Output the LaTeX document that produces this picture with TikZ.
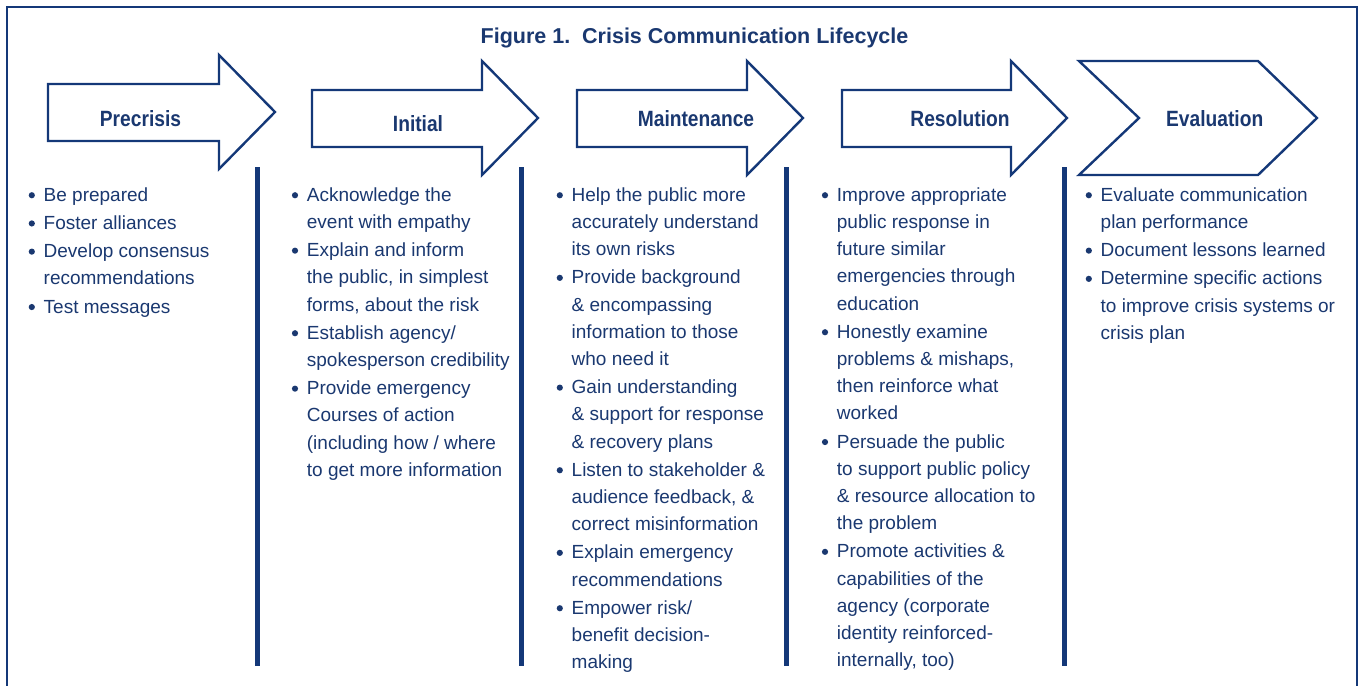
\documentclass[tikz,border=0pt]{standalone}
\usepackage{fontspec}
\setmainfont{Liberation Sans}
\usepackage{graphicx}
\definecolor{navy}{RGB}{20,56,120}
\definecolor{inkblue}{RGB}{26,56,112}
\newcommand\bul{\makebox[15pt][l]{\raisebox{2.9pt}{\tikz\fill (0,0) circle (3.1pt);}}}
\newcommand\ind{\hspace*{15pt}}
\newcommand\hd[1]{\scalebox{1}[1.15]{#1}}
\tikzset{
  frameline/.style={draw=navy, line width=2pt},
  arrowshape/.style={draw=navy, line width=2.4pt, fill=white, line join=miter},
  divider/.style={draw=navy, line width=5pt},
  headlabel/.style={text=inkblue, font=\fontsize{19.2}{22}\selectfont\bfseries, anchor=base, inner sep=0pt},
  titlelabel/.style={text=inkblue, font=\fontsize{21.5}{25}\selectfont\bfseries, anchor=base, inner sep=0pt},
  col/.style={text=inkblue, anchor=north west, align=left, inner sep=0pt, font=\fontsize{19}{27.2}\selectfont},
}
\begin{document}
\begin{tikzpicture}[x=1pt,y=-1pt]
\useasboundingbox (0,0) rectangle (1359,685);
% frame (open at the bottom)
\draw[frameline] (7,686) -- (7,7) -- (1357,7) -- (1357,686);
% title
\node[titlelabel] (title) at (694.5,44) {Figure 1.\ \ Crisis Communication Lifecycle};
% arrows
\draw[arrowshape] (48,84) -- (219,84) -- (219,55) -- (275,112) -- (219,169) -- (219,141) -- (48,141) -- cycle;
\draw[arrowshape] (312,90) -- (482,90) -- (482,61) -- (538,118) -- (482,175) -- (482,147) -- (312,147) -- cycle;
\draw[arrowshape] (577,90) -- (747,90) -- (747,61) -- (803,118) -- (747,175) -- (747,147) -- (577,147) -- cycle;
\draw[arrowshape] (842,90) -- (1011,90) -- (1011,61) -- (1067,118) -- (1011,175) -- (1011,147) -- (842,147) -- cycle;
\draw[arrowshape] (1079,61) -- (1258,61) -- (1317,118) -- (1258,175) -- (1079,175) -- (1139,118) -- cycle;
% headings
\node[headlabel] (h1) at (140.5,126) {\hd{Precrisis}};
\node[headlabel] (h2) at (418,131) {\hd{Initial}};
\node[headlabel] (h3) at (696,126) {\hd{Maintenance}};
\node[headlabel] (h4) at (960,126) {\hd{Resolution}};
\node[headlabel] (h5) at (1214.7,126) {\hd{Evaluation}};
% dividers
\draw[divider] (257,167) -- (257,666);
\draw[divider] (521.5,167) -- (521.5,666);
\draw[divider] (786,167) -- (786,666);
\draw[divider] (1064,167) -- (1064,666);
% columns
\node[col] (c1) at (28.5,182) {\strut\bul Be prepared\\[1pt]
\bul Foster alliances\\[1pt]
\bul Develop consensus\\ \ind recommendations\\[1pt]
\bul Test messages};
\node[col] (c2) at (291.7,182) {\strut\bul Acknowledge the\\ \ind event with empathy\\[1pt]
\bul Explain and inform\\ \ind the public, in simplest\\ \ind forms, about the risk\\[1pt]
\bul Establish agency/\\ \ind spokesperson credibility\\[1pt]
\bul Provide emergency\\ \ind Courses of action\\ \ind (including how / where\\ \ind to get more information};
\node[col] (c3) at (556.5,182) {\strut\bul Help the public more\\ \ind accurately understand\\ \ind its own risks\\[1pt]
\bul Provide background\\ \ind \& encompassing\\ \ind information to those\\ \ind who need it\\[1pt]
\bul Gain understanding\\ \ind \& support for response\\ \ind \& recovery plans\\[1pt]
\bul Listen to stakeholder \&\\ \ind audience feedback, \&\\ \ind correct misinformation\\[1pt]
\bul Explain emergency\\ \ind recommendations\\[1pt]
\bul Empower risk/\\ \ind benefit decision-\\ \ind making};
\node[col] (c4) at (821.7,182) {\strut\bul Improve appropriate\\ \ind public response in\\ \ind future similar\\ \ind emergencies through\\ \ind education\\[1pt]
\bul Honestly examine\\ \ind problems \& mishaps,\\ \ind then reinforce what\\ \ind worked\\[1pt]
\bul Persuade the public\\ \ind to support public policy\\ \ind \& resource allocation to\\ \ind the problem\\[1pt]
\bul Promote activities \&\\ \ind capabilities of the\\ \ind agency (corporate\\ \ind identity reinforced-\\ \ind internally, too)};
\node[col] (c5) at (1085.5,182) {\strut\bul Evaluate communication\\ \ind plan performance\\[1pt]
\bul Document lessons learned\\[1pt]
\bul Determine specific actions\\ \ind to improve crisis systems or\\ \ind crisis plan};
\end{tikzpicture}
\end{document}
